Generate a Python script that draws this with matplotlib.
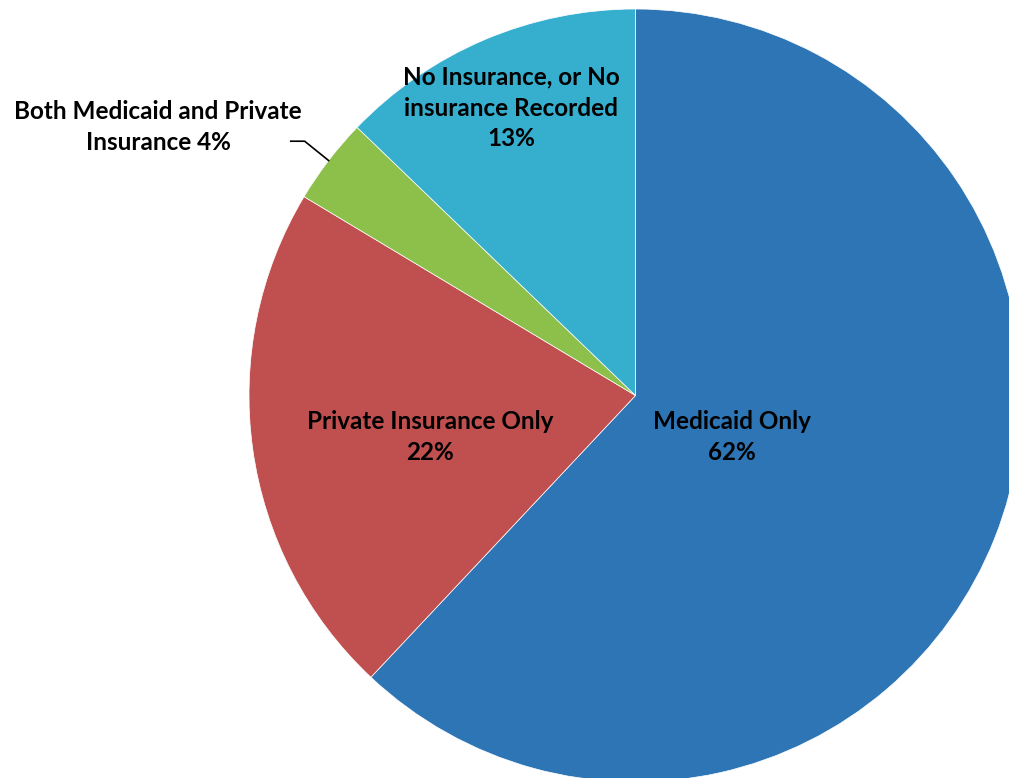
"""
Pie chart of insurance coverage categories.
"""

import matplotlib

matplotlib.use("Agg")
import matplotlib.pyplot as plt
import numpy as np

labels = [
    "Medicaid Only",
    "Private Insurance Only",
    "Both Medicaid and Private\nInsurance",
    "No Insurance, or No\ninsurance Recorded",
]
values = [62.0, 21.6, 3.6, 12.8]
colors = ["#2E75B6", "#C0504F", "#8CC04A", "#36AFCF"]
# label centres in pixel coordinates of the 1009x778 canvas
label_px = [(732, 437), (430, 437), (158, 127), (511, 108)]

W, H = 1009, 778
cx, cy, R = 635.5, 395.5, 386.5


def to_data(px, py):
    return (px - cx) / R, (cy - py) / R


fig = plt.figure(figsize=(W / 100, H / 100), dpi=100)
ax = fig.add_axes([0, 0, 1, 1])

wedges, _ = ax.pie(
    values,
    colors=colors,
    startangle=90,
    counterclock=False,
    radius=1.0,
    wedgeprops=dict(edgecolor="white", linewidth=0.5),
)
ax.set_xlim(-cx / R, (W - cx) / R)
ax.set_ylim(-(H - cy) / R, cy / R)
ax.set_aspect("equal")
ax.axis("off")

font = dict(family="Lato", weight="bold", fontsize=17.5, linespacing=1.42,
            ha="center", va="center", color="black")

total = sum(values)
for i, (lab, v) in enumerate(zip(labels, values)):
    pct = f"{round(v / total * 100):d}%"
    sep = " " if i == 2 else "\n"
    x, y = to_data(*label_px[i])
    ax.text(x, y, f"{lab}{sep}{pct}", **font)

# leader line for the small slice
w = wedges[2]
a = np.deg2rad((w.theta1 + w.theta2) / 2)
ex, ey = np.cos(a), np.sin(a)
kx, ky = ex - 0.062, ey + 0.05
ax.plot([ex, kx, kx - 0.036], [ey, ky, ky], color="black", lw=1.2)

fig.savefig("out.png", dpi=100)
